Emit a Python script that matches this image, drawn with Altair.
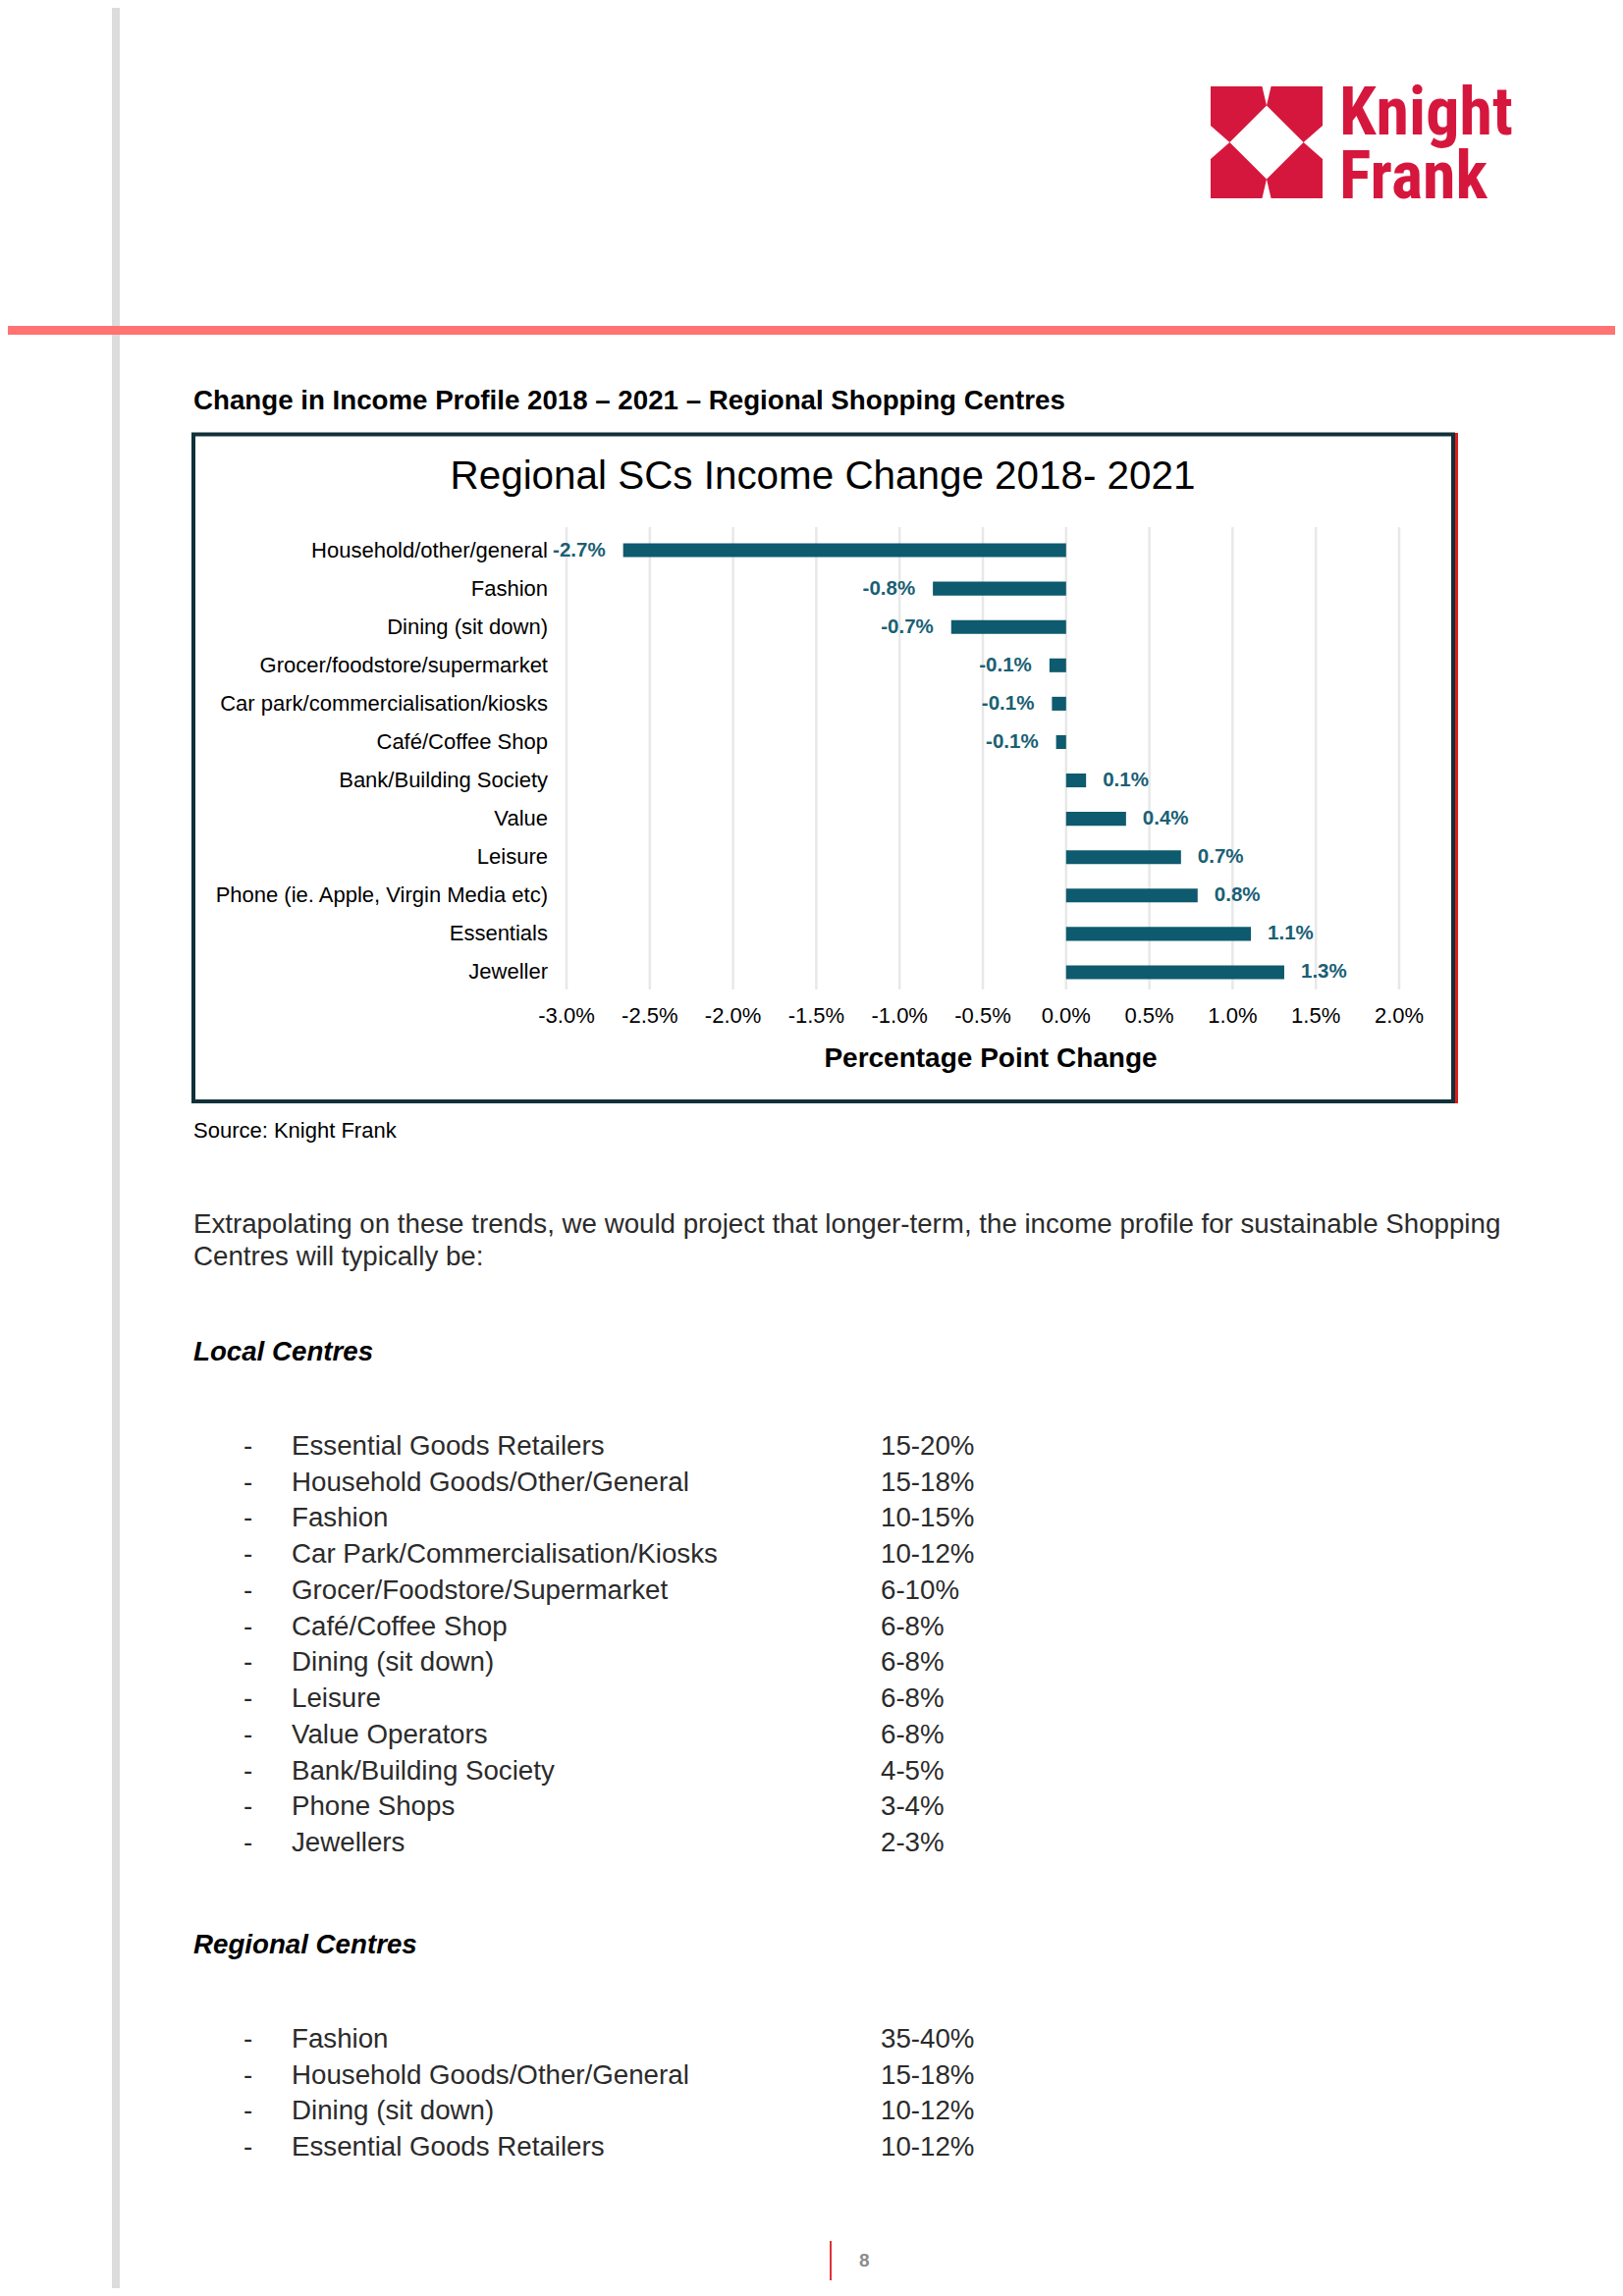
import altair as alt
import pandas as pd

# ---------------- data ----------------
categories = [
    "Household/other/general", "Fashion", "Dining (sit down)",
    "Grocer/foodstore/supermarket", "Car park/commercialisation/kiosks",
    "Café/Coffee Shop", "Bank/Building Society", "Value", "Leisure",
    "Phone (ie. Apple, Virgin Media etc)", "Essentials", "Jeweller",
]
changes = [-2.66, -0.80, -0.69, -0.10, -0.085, -0.06, 0.12, 0.36, 0.69, 0.79, 1.11, 1.31]
ticks = [-3.0, -2.5, -2.0, -1.5, -1.0, -0.5, 0.0, 0.5, 1.0, 1.5, 2.0]

local_items = [
    "Essential Goods Retailers", "Household Goods/Other/General", "Fashion",
    "Car Park/Commercialisation/Kiosks", "Grocer/Foodstore/Supermarket",
    "Café/Coffee Shop", "Dining (sit down)", "Leisure", "Value Operators",
    "Bank/Building Society", "Phone Shops", "Jewellers",
]
local_shares = ["15-20%", "15-18%", "10-15%", "10-12%", "6-10%", "6-8%",
                "6-8%", "6-8%", "6-8%", "4-5%", "3-4%", "2-3%"]
regional_items = ["Fashion", "Household Goods/Other/General",
                  "Dining (sit down)", "Essential Goods Retailers"]
regional_shares = ["35-40%", "15-18%", "10-12%", "10-12%"]
paragraph_lines = [
    "Extrapolating on these trends, we would project that longer-term, the income profile for sustainable Shopping",
    "Centres will typically be:",
]

# ---------------- layout helpers ----------------
W, H = 1637, 2323
FONT = "Liberation Sans"
RED = "#d6173d"
BAR = "#0e5a6e"
BODY = 27.7


def P(v):
    """page pixel -> chart pixel (8px body margin)"""
    return v - 8


one = pd.DataFrame({"k": [0]})
layers = []

# page decorations
layers.append(alt.Chart(one).mark_rule(color="#dcdcdc", strokeWidth=8).encode(
    x=alt.value(P(118)), y=alt.value(0), y2=alt.value(H)))
layers.append(alt.Chart(one).mark_rule(color="#ff7373", strokeWidth=9).encode(
    x=alt.value(0), x2=alt.value(W), y=alt.value(P(336.5))))

# logo
logo_path = ("M-1,-1L-0.08,-1L0,-0.66L-0.66,0L-1,-0.3Z "
             "M1,-1L1,-0.3L0.66,0L0,-0.66L0.08,-1Z "
             "M-1,1L-1,0.3L-0.66,0L0,0.66L-0.08,1Z "
             "M1,1L0.08,1L0,0.66L0.66,0L1,0.3Z")
layers.append(alt.Chart(one).mark_point(
    shape=logo_path, filled=True, fill=RED, opacity=1, size=114 * 114
).encode(x=alt.value(P(1290)), y=alt.value(P(145))))
layers.append(alt.Chart(pd.DataFrame({"w": ["Knight\nFrank"]})).mark_text(
    align="left", baseline="alphabetic", font="Liberation Sans Narrow, Roboto Condensed, Roboto",
    fontWeight="bold", fontSize=68, color=RED, lineBreak="\n", lineHeight=65
).encode(x=alt.value(P(1364)), y=alt.value(P(137)), text="w:N"))

# heading above chart
layers.append(alt.Chart(pd.DataFrame({"t": ["Change in Income Profile 2018 – 2021 – Regional Shopping Centres"]}))
              .mark_text(align="left", baseline="alphabetic", font=FONT, fontWeight="bold",
                         fontSize=BODY, color="#000000")
              .encode(x=alt.value(P(197)), y=alt.value(P(417)), text="t:N"))

# chart frame
layers.append(alt.Chart(one).mark_rect(fillOpacity=0, stroke="#12303a", strokeWidth=4).encode(
    x=alt.value(P(197)), x2=alt.value(P(1480)), y=alt.value(P(442.5)), y2=alt.value(P(1122))))
layers.append(alt.Chart(one).mark_rule(color="#e01b1b", strokeWidth=3).encode(
    x=alt.value(P(1483.5)), y=alt.value(P(441)), y2=alt.value(P(1124))))

# chart title
layers.append(alt.Chart(pd.DataFrame({"t": ["Regional SCs Income Change 2018- 2021"]}))
              .mark_text(align="center", baseline="alphabetic", font=FONT, fontSize=40.4, color="#000000")
              .encode(x=alt.value(P(838)), y=alt.value(P(498)), text="t:N"))

# bar chart scales
xs = alt.Scale(domain=[-3, 2], range=[P(577), P(1425)])
ys = alt.Scale(domain=categories, range=[P(541), P(1010)], paddingInner=0.64, paddingOuter=0.32)
bars_df = pd.DataFrame({"category": categories, "value": changes})
ticks_df = pd.DataFrame({"tick": ticks})

layers.append(alt.Chart(ticks_df).mark_rule(color="#e8e8e8", strokeWidth=2.5).encode(
    x=alt.X("tick:Q", scale=xs, axis=None), y=alt.value(P(537)), y2=alt.value(P(1008))))

base = alt.Chart(bars_df).encode(
    y=alt.Y("category:N", scale=ys, sort=categories, axis=None))
layers.append(base.mark_bar(color=BAR).encode(x=alt.X("value:Q", scale=xs, axis=None)))

lab = base.transform_calculate(
    label="(datum.value < 0 ? '-' : '') + format(abs(datum.value), '.1f') + '%'")
layers.append(lab.transform_filter("datum.value >= 0").mark_text(
    align="left", baseline="middle", dx=17, font=FONT, fontWeight="bold", fontSize=20.5, color="#1a6074"
).encode(x=alt.X("value:Q", scale=xs, axis=None), text="label:N"))
layers.append(lab.transform_filter("datum.value < 0").mark_text(
    align="right", baseline="middle", dx=-18, font=FONT, fontWeight="bold", fontSize=20.5, color="#1a6074"
).encode(x=alt.X("value:Q", scale=xs, axis=None), text="label:N"))

layers.append(base.mark_text(align="right", baseline="middle", font=FONT, fontSize=22, color="#000000")
              .encode(x=alt.value(P(558)), text="category:N"))

layers.append(alt.Chart(ticks_df).transform_calculate(
    lbl="(datum.tick < 0 ? '-' : '') + format(abs(datum.tick), '.1f') + '%'")
              .mark_text(align="center", baseline="alphabetic", font=FONT, fontSize=22, color="#000000")
              .encode(x=alt.X("tick:Q", scale=xs, axis=None), y=alt.value(P(1042)), text="lbl:N"))

layers.append(alt.Chart(pd.DataFrame({"t": ["Percentage Point Change"]}))
              .mark_text(align="center", baseline="alphabetic", font=FONT, fontWeight="bold",
                         fontSize=28, color="#000000")
              .encode(x=alt.value(P(1009)), y=alt.value(P(1087)), text="t:N"))

# source
layers.append(alt.Chart(pd.DataFrame({"t": ["Source: Knight Frank"]}))
              .mark_text(align="left", baseline="alphabetic", font=FONT, fontSize=22, color="#000000")
              .encode(x=alt.value(P(197)), y=alt.value(P(1159)), text="t:N"))

# paragraph
para_df = pd.DataFrame({"t": paragraph_lines, "row": [0, 1]})
layers.append(alt.Chart(para_df).mark_text(
    align="left", baseline="alphabetic", font=FONT, fontSize=BODY, color="#2b2b2b"
).encode(x=alt.value(P(197)),
         y=alt.Y("row:Q", scale=alt.Scale(domain=[0, 1], range=[P(1256), P(1289)]), axis=None),
         text="t:N"))

# section headings
heads_df = pd.DataFrame({"t": ["Local Centres", "Regional Centres"], "row": [0, 1]})
layers.append(alt.Chart(heads_df).mark_text(
    align="left", baseline="alphabetic", font=FONT, fontSize=BODY, fontWeight="bold",
    fontStyle="italic", color="#000000"
).encode(x=alt.value(P(197)),
         y=alt.Y("row:Q", scale=alt.Scale(domain=[0, 1], range=[P(1386), P(1990)]), axis=None),
         text="t:N"))


def list_layers(items, shares, y_first, y_last):
    df = pd.DataFrame({"item": items, "share": shares, "row": list(range(len(items)))})
    yenc = alt.Y("row:Q", scale=alt.Scale(domain=[0, len(items) - 1], range=[P(y_first), P(y_last)]),
                 axis=None)
    b = alt.Chart(df).transform_calculate(dash="'-'")
    common = dict(align="left", baseline="alphabetic", font=FONT, fontSize=BODY, color="#2b2b2b")
    return [
        b.mark_text(**common).encode(x=alt.value(P(248)), y=yenc, text="dash:N"),
        b.mark_text(**common).encode(x=alt.value(P(297)), y=yenc, text="item:N"),
        b.mark_text(**common).encode(x=alt.value(P(897)), y=yenc, text="share:N"),
    ]


layers += list_layers(local_items, local_shares, 1482, 1886)
layers += list_layers(regional_items, regional_shares, 2086, 2196)

# footer
layers.append(alt.Chart(one).mark_rule(color="#e0303a", strokeWidth=2).encode(
    x=alt.value(P(846)), y=alt.value(P(2283)), y2=alt.value(P(2323))))
layers.append(alt.Chart(pd.DataFrame({"t": ["8"]}))
              .mark_text(align="left", baseline="alphabetic", font=FONT, fontSize=19, fontWeight="bold",
                         color="#8c8c8c")
              .encode(x=alt.value(P(875)), y=alt.value(P(2309)), text="t:N"))

chart = alt.layer(*layers).resolve_scale(x="independent", y="independent").properties(
    width=W, height=H, autosize=alt.AutoSizeParams(type="none"), padding=0
).configure_view(stroke=None)

chart.save("out.html", embed_options={"renderer": "svg", "actions": False})
